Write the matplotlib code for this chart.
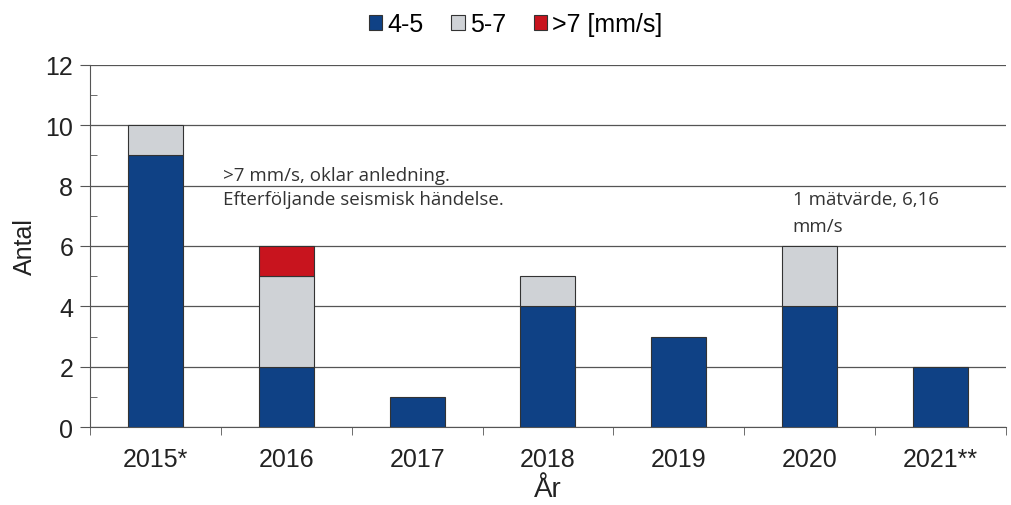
import numpy as np
import matplotlib
matplotlib.use("Agg")
import matplotlib.pyplot as plt
from matplotlib.ticker import MultipleLocator
from matplotlib.patches import Patch

years = ["2015*", "2016", "2017", "2018", "2019", "2020", "2021**"]
v45 = [9, 2, 1, 4, 3, 4, 2]
v57 = [1, 3, 0, 1, 0, 2, 0]
v7 = [0, 1, 0, 0, 0, 0, 0]
series_names = ["4-5", "5-7", ">7 [mm/s]"]

c45 = "#0f4185"
c57 = "#cfd2d6"
c7 = "#c8141e"

plt.rcParams['font.family'] = ['Liberation Sans', 'DejaVu Sans']

fig = plt.figure(figsize=(10.11, 5.06), dpi=100)
ax = fig.add_axes([0.089, 0.154, 0.906, 0.716])

x = np.arange(len(years))
w = 0.42
ec = "#333333"
b1 = ax.bar(x, v45, w, color=c45, edgecolor=ec, linewidth=0.8, zorder=3)
bot = np.array(v45)
b2 = ax.bar(x, v57, w, bottom=bot, color=c57, edgecolor=ec, linewidth=0.8, zorder=3)
bot = bot + np.array(v57)
b3 = ax.bar(x, v7, w, bottom=bot, color=c7, edgecolor=ec, linewidth=0.8, zorder=3)
# hide the empty segments
for bars, vals in ((b2, v57), (b3, v7)):
    for r, v in zip(bars, vals):
        if v == 0:
            r.set_visible(False)

ax.set_xlim(-0.5, len(years) - 0.5)
ax.set_ylim(0, 12)
ax.yaxis.set_major_locator(MultipleLocator(2))
ax.yaxis.set_minor_locator(MultipleLocator(1))
ax.yaxis.grid(True, color="#555555", linewidth=0.9, zorder=0)
ax.set_xticks(x)
ax.set_xticklabels(years)
ax.set_xticks(np.arange(-0.5, len(years)), minor=True)
ax.tick_params(axis="x", which="major", length=0, labelsize=18, pad=14, colors="#222222")
ax.tick_params(axis="x", which="minor", length=6, direction="out", color="#555555")
ax.tick_params(axis="y", which="major", length=7, labelsize=18, pad=5, color="#555555", labelcolor="#222222")
ax.tick_params(axis="y", which="minor", length=5, direction="in", color="#555555")

for s in ("top", "right"):
    ax.spines[s].set_visible(False)
for s in ("left", "bottom"):
    ax.spines[s].set_color("#555555")

ax.set_ylabel("Antal", fontsize=18, color="#222222", labelpad=6)
ax.set_xlabel("År", fontsize=20, color="#222222", labelpad=4)

note_font = ['Open Sans', 'DejaVu Sans']
note_kw = dict(fontsize=13.5, family=note_font, va="center", ha="left", color="#333333", zorder=4)
ax.text(0.52, 8.35, ">7 mm/s, oklar anledning.", **note_kw)
ax.text(0.52, 7.55, "Efterföljande seismisk händelse.", **note_kw)
ax.text(4.87, 7.56, "1 mätvärde, 6,16", **note_kw)
ax.text(4.87, 6.65, "mm/s", **note_kw)

handles = [Patch(facecolor=c, edgecolor=ec, linewidth=0.8) for c in (c45, c57, c7)]
fig.legend(handles, series_names, loc="center", bbox_to_anchor=(0.51, 0.95),
           ncol=3, frameon=False, fontsize=18, handlelength=0.55, handleheight=0.55,
           handletextpad=0.2, columnspacing=1.1, borderpad=0)

fig.savefig("out.png", dpi=100)
